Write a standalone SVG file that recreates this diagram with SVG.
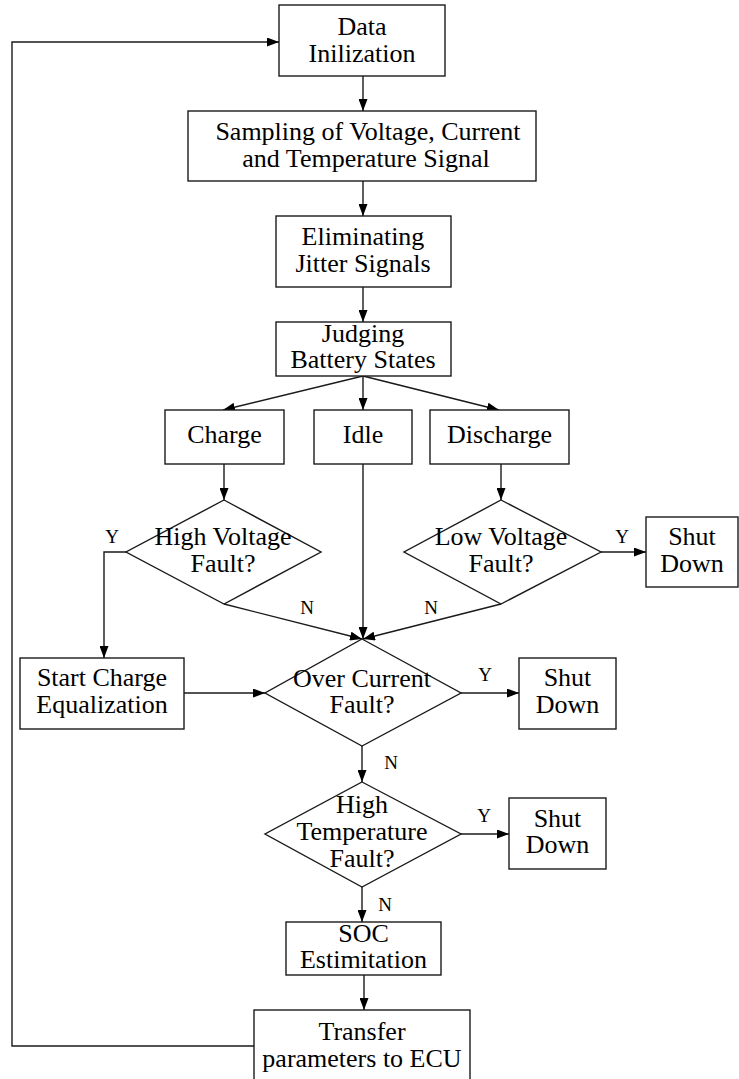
<svg xmlns="http://www.w3.org/2000/svg" width="739" height="1079" viewBox="0 0 739 1079">
<style>
  .box{fill:#fff;stroke:#1a1a1a;stroke-width:1.4}
  .t{font-family:"Liberation Serif","Times New Roman",serif;font-size:25px;fill:#000;text-anchor:middle;transform-box:fill-box;transform-origin:center;transform:scaleX(1.04)}
  .lb{font-family:"Liberation Serif","Times New Roman",serif;font-size:19px;fill:#000;text-anchor:middle}
  .c{fill:none;stroke:#1a1a1a;stroke-width:1.4}
</style>
<defs>
  <marker id="ah" viewBox="0 0 12 9" refX="12" refY="4.5" markerWidth="12" markerHeight="9" markerUnits="userSpaceOnUse" orient="auto">
    <path d="M0,0 L12,4.5 L0,9 Z" fill="#000"/>
  </marker>
</defs>
<rect width="739" height="1079" fill="#fff"/>

<g id="connectors">
  <path class="c" d="M363,76 V111" marker-end="url(#ah)"/>
  <path class="c" d="M363,181 V216" marker-end="url(#ah)"/>
  <path class="c" d="M363,287 V322" marker-end="url(#ah)"/>
  <path class="c" d="M363,376 L223,410" marker-end="url(#ah)"/>
  <path class="c" d="M363,376 V410" marker-end="url(#ah)"/>
  <path class="c" d="M363,376 L499,410" marker-end="url(#ah)"/>
  <path class="c" d="M224,464 V500" marker-end="url(#ah)"/>
  <path class="c" d="M501,464 V500" marker-end="url(#ah)"/>
  <path class="c" d="M126,552 H104 V658" marker-end="url(#ah)"/>
  <path class="c" d="M224,604 L362,639" marker-end="url(#ah)"/>
  <path class="c" d="M363,464 V639" marker-end="url(#ah)"/>
  <path class="c" d="M501,604 L363,639" marker-end="url(#ah)"/>
  <path class="c" d="M601,552 H646" marker-end="url(#ah)"/>
  <path class="c" d="M184,693 H265" marker-end="url(#ah)"/>
  <path class="c" d="M461,693 H519" marker-end="url(#ah)"/>
  <path class="c" d="M362,746 V782" marker-end="url(#ah)"/>
  <path class="c" d="M461,834 H509" marker-end="url(#ah)"/>
  <path class="c" d="M362,887 V922" marker-end="url(#ah)"/>
  <path class="c" d="M364,975 V1010" marker-end="url(#ah)"/>
  <path class="c" d="M254,1046 H12 V42 H279" marker-end="url(#ah)"/>
  <text class="lb" x="112" y="543">Y</text>
  <text class="lb" x="307" y="614">N</text>
  <text class="lb" x="431" y="614">N</text>
  <text class="lb" x="622" y="543">Y</text>
  <text class="lb" x="485" y="681">Y</text>
  <text class="lb" x="391" y="769">N</text>
  <text class="lb" x="484" y="822">Y</text>
  <text class="lb" x="385" y="911">N</text>
</g>

<g id="data-init">
  <rect class="box" x="279" y="5" width="166" height="71"/>
  <text class="t" x="362" y="35">Data</text>
  <text class="t" x="362" y="62">Inilization</text>
</g>
<g id="sampling">
  <rect class="box" x="188" y="111" width="348" height="70"/>
  <text class="t" x="368" y="140">Sampling of Voltage, Current</text>
  <text class="t" x="366" y="167">and Temperature Signal</text>
</g>
<g id="eliminating">
  <rect class="box" x="276" y="216" width="175" height="71"/>
  <text class="t" x="363" y="245">Eliminating</text>
  <text class="t" x="363" y="272">Jitter Signals</text>
</g>
<g id="judging">
  <rect class="box" x="276" y="322" width="175" height="54"/>
  <text class="t" x="363" y="342">Judging</text>
  <text class="t" x="363" y="368">Battery States</text>
</g>
<g id="charge">
  <rect class="box" x="165" y="410" width="119" height="54"/>
  <text class="t" x="224.5" y="443">Charge</text>
</g>
<g id="idle">
  <rect class="box" x="314" y="410" width="98" height="54"/>
  <text class="t" x="363" y="443">Idle</text>
</g>
<g id="discharge">
  <rect class="box" x="430" y="410" width="139" height="54"/>
  <text class="t" x="499.5" y="443">Discharge</text>
</g>
<g id="high-voltage">
  <polygon class="box" points="224,500 321,552 224,604 126,552"/>
  <text class="t" x="223" y="545">High Voltage</text>
  <text class="t" x="223" y="572">Fault?</text>
</g>
<g id="low-voltage">
  <polygon class="box" points="501,500 601,552 501,604 404,552"/>
  <text class="t" x="501" y="545">Low Voltage</text>
  <text class="t" x="501" y="572">Fault?</text>
</g>
<g id="shutdown-1">
  <rect class="box" x="646" y="517" width="92" height="70"/>
  <text class="t" x="692" y="545">Shut</text>
  <text class="t" x="692" y="572">Down</text>
</g>
<g id="start-charge">
  <rect class="box" x="20" y="658" width="164" height="71"/>
  <text class="t" x="102" y="686">Start Charge</text>
  <text class="t" x="102" y="713">Equalization</text>
</g>
<g id="over-current">
  <polygon class="box" points="362,639 461,693 362,746 265,693"/>
  <text class="t" x="362" y="687">Over Current</text>
  <text class="t" x="362" y="713">Fault?</text>
</g>
<g id="shutdown-2">
  <rect class="box" x="519" y="658" width="97" height="71"/>
  <text class="t" x="567.5" y="686">Shut</text>
  <text class="t" x="567.5" y="713">Down</text>
</g>
<g id="high-temp">
  <polygon class="box" points="362,782 461,834 362,887 265,834"/>
  <text class="t" x="362" y="813">High</text>
  <text class="t" x="362" y="840">Temperature</text>
  <text class="t" x="362" y="867">Fault?</text>
</g>
<g id="shutdown-3">
  <rect class="box" x="509" y="798" width="97" height="71"/>
  <text class="t" x="557.5" y="827">Shut</text>
  <text class="t" x="557.5" y="853">Down</text>
</g>
<g id="soc">
  <rect class="box" x="286" y="922" width="155" height="53"/>
  <text class="t" x="363.5" y="942">SOC</text>
  <text class="t" x="363.5" y="968">Estimitation</text>
</g>
<g id="transfer">
  <rect class="box" x="254" y="1010" width="216" height="80"/>
  <text class="t" x="362" y="1040">Transfer</text>
  <text class="t" x="362" y="1067">parameters to ECU</text>
</g>
</svg>
